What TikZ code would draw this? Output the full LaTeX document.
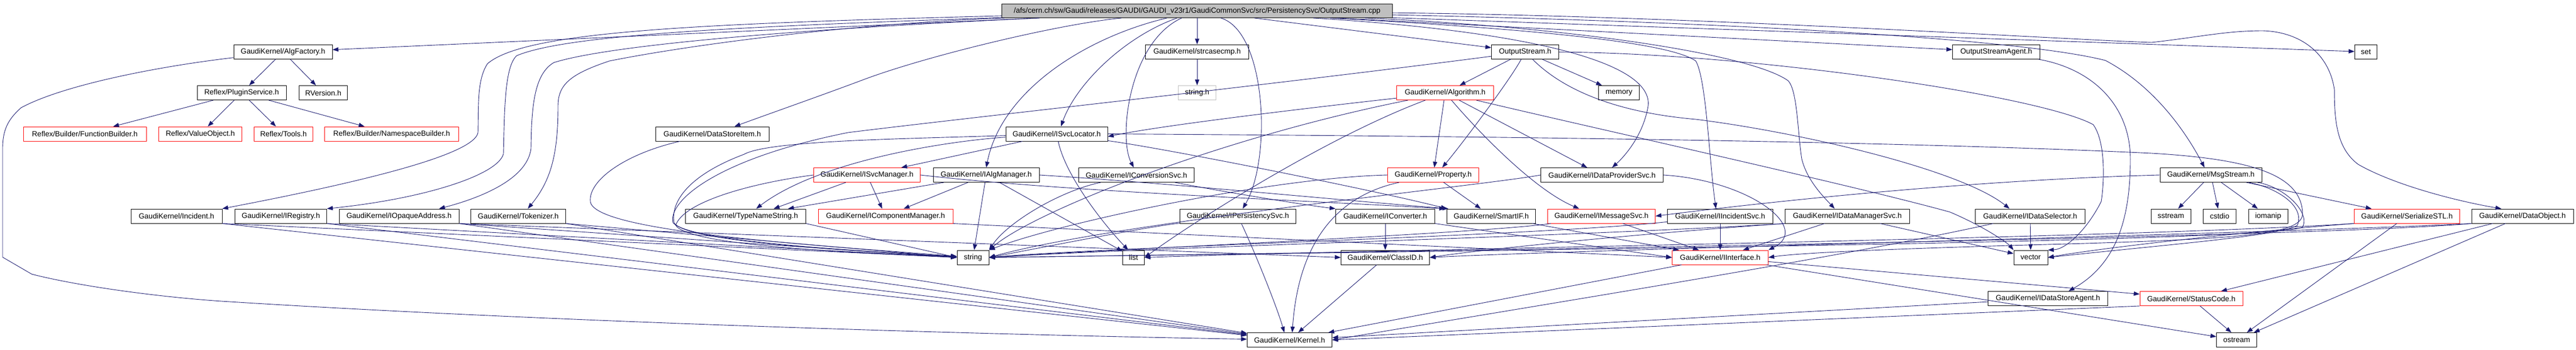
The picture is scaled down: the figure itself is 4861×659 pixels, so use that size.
\documentclass[tikz,border=0pt]{standalone}
\usepackage{fontspec}
\setmainfont{Liberation Sans}
\usetikzlibrary{arrows.meta}
\definecolor{eb}{HTML}{191970}
\definecolor{gb}{HTML}{BFBFBF}
\begin{document}
\begin{tikzpicture}[x=1pt,y=-1pt,
  nd/.style={draw=black,line width=1pt,minimum height=27pt,inner sep=0pt,font=\fontsize{14}{16}\selectfont},
  rd/.style={nd,draw=red},
  e/.style={draw=eb,line width=0.9pt,-{Triangle[length=11pt,width=8pt]}}]
\useasboundingbox[fill=white] (0,0) rectangle (4861,659);
% ---------------- nodes
\node[nd,fill=gb,minimum width=737pt,minimum height=26pt] (top) at (2259,20.5) {/afs/cern.ch/sw/Gaudi/releases/GAUDI/GAUDI\_v23r1/GaudiCommonSvc/src/PersistencySvc/OutputStream.cpp};
\node[nd,minimum width=186pt] (algf) at (534,97.8) {GaudiKernel/AlgFactory.h};
\node[nd,minimum width=168pt] (plugin) at (456,175) {Reflex/PluginService.h};
\node[nd,minimum width=91pt] (rver) at (610,175) {RVersion.h};
\node[rd,minimum width=232pt] (fbuild) at (160,252.5) {Reflex/Builder/FunctionBuilder.h};
\node[rd,minimum width=157pt] (vobj) at (378,252.5) {Reflex/ValueObject.h};
\node[rd,minimum width=111pt] (tools) at (535,252.5) {Reflex/Tools.h};
\node[rd,minimum width=253pt] (nsb) at (739,252.5) {Reflex/Builder/NamespaceBuilder.h};
\node[nd,minimum width=172pt] (incident) at (333,407.5) {GaudiKernel/Incident.h};
\node[nd,minimum width=173pt] (ireg) at (530,407.5) {GaudiKernel/IRegistry.h};
\node[nd,minimum width=226pt] (iopaq) at (753,407.5) {GaudiKernel/IOpaqueAddress.h};
\node[nd,minimum width=179pt] (token) at (978,407.5) {GaudiKernel/Tokenizer.h};
\node[nd,minimum width=214pt] (dsi) at (1344,252.5) {GaudiKernel/DataStoreItem.h};
\node[nd,minimum width=227pt] (tns) at (1407,407.5) {GaudiKernel/TypeNameString.h};
\node[rd,minimum width=201pt] (isvcm) at (1636,330) {GaudiKernel/ISvcManager.h};
\node[rd,minimum width=254pt] (icomp) at (1671,407.5) {GaudiKernel/IComponentManager.h};
\node[nd,minimum width=195pt] (strcmp) at (2259,97.8) {GaudiKernel/strcasecmp.h};
\node[nd,draw=gb,minimum width=71pt] (stringh) at (2259,175) {string.h};
\node[nd,minimum width=192pt] (isvcl) at (1994,252.5) {GaudiKernel/ISvcLocator.h};
\node[nd,minimum width=200pt] (ialgm) at (1861,330) {GaudiKernel/IAlgManager.h};
\node[nd,minimum width=218pt] (iconv) at (2144.5,330) {GaudiKernel/IConversionSvc.h};
\node[nd,minimum width=219pt] (ipers) at (2336,407.5) {GaudiKernel/IPersistencySvc.h};
\node[nd,minimum width=60pt] (nstring) at (1836,485.5) {string};
\node[nd,minimum width=41pt] (nlist) at (2139,485.5) {list};
\node[nd,minimum width=160pt] (kernel) at (2433.5,641) {GaudiKernel/Kernel.h};
\node[nd,minimum width=127pt] (ostreamh) at (2878,97.8) {OutputStream.h};
\node[rd,minimum width=183pt] (algo) at (2727,175) {GaudiKernel/Algorithm.h};
\node[nd,minimum width=77pt] (nmemory) at (3055,175) {memory};
\node[rd,minimum width=171.5pt] (prop) at (2704.5,330) {GaudiKernel/Property.h};
\node[nd,minimum width=231pt] (idps) at (3023,330) {GaudiKernel/IDataProviderSvc.h};
\node[nd,minimum width=187pt] (iconvt) at (2614,407.5) {GaudiKernel/IConverter.h};
\node[nd,minimum width=167pt] (smartif) at (2814,407.5) {GaudiKernel/SmartIF.h};
\node[rd,minimum width=203pt] (imsg) at (3022,407.5) {GaudiKernel/IMessageSvc.h};
\node[nd,minimum width=199pt] (iinc) at (3246,407.5) {GaudiKernel/IIncidentSvc.h};
\node[nd,minimum width=167pt] (classid) at (2614,485.5) {GaudiKernel/ClassID.h};
\node[rd,minimum width=181pt] (iint) at (3246,485.5) {GaudiKernel/IInterface.h};
\node[nd,minimum width=165pt] (osagent) at (3767,97.8) {OutputStreamAgent.h};
\node[nd,minimum width=235pt] (idms) at (3486,407.5) {GaudiKernel/IDataManagerSvc.h};
\node[nd,minimum width=207pt] (idsel) at (3831,407.5) {GaudiKernel/IDataSelector.h};
\node[nd,minimum width=64pt] (nvector) at (3832,485.5) {vector};
\node[nd,minimum width=226pt] (idsa) at (3864.5,563) {GaudiKernel/IDataStoreAgent.h};
\node[rd,minimum width=194pt] (status) at (4135,563) {GaudiKernel/StatusCode.h};
\node[nd,minimum width=75pt] (nsstream) at (4096.5,407.5) {sstream};
\node[nd,minimum width=192pt] (msgs) at (4172,330) {GaudiKernel/MsgStream.h};
\node[nd,minimum width=62pt] (ncstdio) at (4188.5,407.5) {cstdio};
\node[nd,minimum width=74pt] (niomanip) at (4280,407.5) {iomanip};
\node[rd,minimum width=199pt] (sstl) at (4542,407.5) {GaudiKernel/SerializeSTL.h};
\node[nd,minimum width=192pt] (dobj) at (4760,407.5) {GaudiKernel/DataObject.h};
\node[nd,minimum width=76pt] (nostream) at (4220.7,641) {ostream};
\node[nd,minimum width=42pt] (nset) at (4464.5,97.8) {set};
% ---------------- edges from the source file
\draw[e] (top) -- (algf);
\draw[e] (top) .. controls (1300,45) and (990,60) .. (920,120) .. controls (900,150) and (903,200) .. (902,250) .. controls (895,290) and (700,340) .. (incident.north east);
\draw[e] (top) .. controls (1400,50) and (1070,65) .. (975,105) .. controls (953,125) and (952,200) .. (950,290) .. controls (940,330) and (800,375) .. (ireg.north east);
\draw[e] (top) .. controls (1500,55) and (1150,85) .. (1045,118) .. controls (1008,140) and (1003,200) .. (1002,280) .. controls (995,340) and (900,375) .. ([xshift=-38pt]iopaq.north east);
\draw[e] (top) .. controls (1600,45) and (1300,85) .. (1150,115) .. controls (1075,140) and (1053,160) .. (1053,200) .. controls (1053,290) and (1040,340) .. ([xshift=18pt]token.north);
\draw[e] (top) .. controls (2000,45) and (1750,105) .. (1630,150) .. controls (1550,180) and (1450,215) .. ([xshift=42pt]dsi.north);
\draw[e] (top) -- (strcmp);
\draw[e] (top) .. controls (2120,70) and (2030,160) .. ([xshift=8pt]isvcl.north);
\draw[e] (top) .. controls (2050,70) and (1890,170) .. (ialgm.north);
\draw[e] (top) .. controls (2130,80) and (2110,260) .. ([xshift=-5pt]iconv.north);
\draw[e] (top) .. controls (2390,60) and (2400,300) .. ([xshift=9pt]ipers.north);
\draw[e] (top) -- (ostreamh);
\draw[e] (top) -- (osagent);
\draw[e] (top) -- (nset);
\draw[e] (top) .. controls (2900,60) and (3120,120) .. (3110,200) .. controls (3100,260) and (3060,300) .. ([xshift=19pt]idps.north);
\draw[e] (top) .. controls (2950,50) and (3300,100) .. (3374,152) .. controls (3392,170) and (3392,250) .. (3400,300) .. controls (3410,340) and (3440,370) .. ([xshift=-24pt]idms.north);
\draw[e] (top) .. controls (2900,55) and (3150,80) .. (3200,115) .. controls (3220,150) and (3225,300) .. ([xshift=-8pt]iinc.north);
\draw[e] (top) .. controls (3200,40) and (3800,70) .. (3973,114) .. controls (4060,160) and (4120,240) .. ([xshift=-12pt]msgs.north);
\draw[e] (top) .. controls (3200,30) and (3900,75) .. (4060,80) .. controls (4150,70) and (4200,58) .. (4270,58) .. controls (4340,60) and (4395,100) .. (4405,169) .. controls (4405,230) and (4410,280) .. (4450,310) .. controls (4520,350) and (4640,380) .. ([xshift=-40pt]dobj.north);
% ---------------- AlgFactory and Reflex
\draw[e] (algf) -- (plugin);
\draw[e] (algf) -- (rver);
\draw[e] (algf) .. controls (300,125) and (120,160) .. (40,203) .. controls (15,225) and (5,245) .. (5,280) -- (5,485) -- (60,517) .. controls (150,540) and (300,560) .. (418,568) .. controls (1000,605) and (1800,630) .. (kernel);
\draw[e] (plugin) -- (fbuild);
\draw[e] (plugin) -- (vobj);
\draw[e] (plugin) -- (tools);
\draw[e] (plugin) -- (nsb);
\draw[e] (strcmp) -- (stringh);
% ---------------- OutputStream.h
\draw[e] (ostreamh) -- (algo);
\draw[e] (ostreamh) -- (nmemory);
\draw[e] (ostreamh) .. controls (2850,150) and (2760,270) .. ([xshift=17pt]prop.north);
\draw[e] (ostreamh) .. controls (2950,170) and (3050,212) .. (3200,225) .. controls (3400,250) and (3700,320) .. ([xshift=-39pt]idsel.north);
\draw[e] (ostreamh) .. controls (3300,100) and (3850,180) .. (3950,235) .. controls (3975,270) and (3970,350) .. (3965,380) .. controls (3940,430) and (3900,470) .. (nvector.north east);
\draw[e] (ostreamh) .. controls (2400,160) and (1800,225) .. (1600,250) .. controls (1350,300) and (1260,380) .. (1270,420) .. controls (1300,455) and (1600,472) .. (nstring);
% ---------------- OutputStreamAgent, DataStoreItem
\draw[e] (osagent) .. controls (3950,130) and (4020,200) .. (4020,300) .. controls (4020,420) and (3990,500) .. ([xshift=39pt]idsa.north);
\draw[e] (dsi) .. controls (1180,290) and (1110,340) .. (1114,380) .. controls (1120,435) and (1500,460) .. (nstring);
% ---------------- ISvcLocator
\draw[e] (isvcl) -- (isvcm);
\draw[e] (isvcl) .. controls (2010,330) and (2080,420) .. ([xshift=-10pt]nlist.north);
\draw[e] (isvcl) .. controls (1800,265) and (1550,300) .. ([xshift=20pt]tns.north);
\draw[e] (isvcl) .. controls (1700,262) and (1450,265) .. (1404,291) .. controls (1300,330) and (1265,380) .. (1272,420) .. controls (1290,450) and (1500,468) .. (nstring);
\draw[e] (isvcl) .. controls (2200,280) and (2600,360) .. (smartif.north west);
\draw[e] (isvcl.east) .. controls (2500,255) and (3500,262) .. (4060,289) .. controls (4250,300) and (4345,330) .. (4345,405) .. controls (4340,440) and (4250,450) .. (3900,460) .. controls (3600,468) and (3400,476) .. (iint.east);
% ---------------- IAlgManager, ISvcManager
\draw[e] (ialgm) -- (icomp);
\draw[e] (ialgm) -- (nstring);
\draw[e] (ialgm) -- (nlist);
\draw[e] ([xshift=-80pt]ialgm.south) -- ([xshift=80pt]tns.north);
\draw[e] (ialgm.east) .. controls (2200,345) and (2500,375) .. ([xshift=3pt]smartif.north west);
\draw[e] (isvcm) -- (icomp);
\draw[e] ([xshift=-40pt]isvcm.south) -- ([xshift=53pt]tns.north);
\draw[e] (isvcm.west) .. controls (1420,345) and (1290,380) .. (1275,425) .. controls (1300,460) and (1550,475) .. (nstring);
\draw[e] (isvcm.east) .. controls (2000,360) and (2400,375) .. ([xshift=-3pt]smartif.north west);
% ---------------- IConversionSvc, IPersistencySvc
\draw[e] (iconv) .. controls (2300,360) and (2450,385) .. (iconvt.north west);
\draw[e] (iconv) .. controls (2000,360) and (1900,420) .. (nstring.north east);
\draw[e] (ipers) .. controls (2370,480) and (2410,580) .. ([xshift=-10pt]kernel.north);
\draw[e] (ipers) .. controls (2150,430) and (1950,470) .. (nstring.east);
% ---------------- Algorithm.h
\draw[e] (algo) .. controls (2500,200) and (2200,235) .. ([yshift=-5pt]isvcl.east);
\draw[e] (algo) -- (prop);
\draw[e] (algo) .. controls (2800,260) and (2900,360) .. ([xshift=-42pt]imsg.north);
\draw[e] (algo) -- ([xshift=-28pt]idps.north);
\draw[e] (algo) .. controls (2300,260) and (1950,400) .. (nstring.north east);
\draw[e] (algo) .. controls (2500,260) and (2250,420) .. (nlist.east);
\draw[e] (algo) .. controls (3000,240) and (3500,350) .. (3680,400) .. controls (3750,430) and (3790,460) .. (nvector.north west);
% ---------------- Property.h, IDataProviderSvc.h
\draw[e] (prop) -- (smartif);
\draw[e] (prop) .. controls (2520,370) and (2450,460) .. ([xshift=5pt]kernel.north);
\draw[e] (prop.west) .. controls (2400,335) and (2000,420) .. (nstring.north east);
\draw[e] (idps.west) .. controls (2800,350) and (2100,420) .. (nstring.east);
\draw[e] (idps.east) .. controls (3300,340) and (3420,430) .. (iint.north east);
% ---------------- row 5 interfaces
\draw[e] (iconvt) -- (classid);
\draw[e] (iconvt.south east) -- (iint.west);
\draw[e] (smartif) -- (iint);
\draw[e] (imsg) -- (iint);
\draw[e] (imsg) .. controls (2800,440) and (2100,470) .. (nstring.east);
\draw[e] (iinc) -- (iint);
\draw[e] (iinc) .. controls (2900,445) and (2100,465) .. (nstring.east);
\draw[e] (idms) -- (iint);
\draw[e] (idms) -- (nvector);
\draw[e] (idms.south west) .. controls (3000,445) and (2200,465) .. (nstring.east);
\draw[e] (idms.south west) .. controls (3100,440) and (2800,470) .. (classid.east);
\draw[e] (idsel) -- (nvector);
\draw[e] ([xshift=-70pt]idsel.south) .. controls (3500,480) and (3000,560) .. (kernel.east);
% ---------------- lower rows
\draw[e] (iint) -- (kernel);
\draw[e] (iint) -- (status);
\draw[e] (iint) -- (nostream);
\draw[e] (status) -- ([xshift=-10pt]nostream.north);
\draw[e] (status.south west) -- (kernel.east);
\draw[e] (idsa) -- (kernel);
\draw[e] (classid) -- (kernel);
% ---------------- SerializeSTL, DataObject, MsgStream
\draw[e] (sstl) -- (nostream);
\draw[e] (sstl.south west) .. controls (4200,440) and (3950,470) .. (nvector.east);
\draw[e] (sstl.south west) .. controls (4000,450) and (2600,470) .. (nlist.east);
\draw[e] (dobj) -- (nostream);
\draw[e] (dobj) -- (status);
\draw[e] (dobj.south west) .. controls (4300,440) and (3000,470) .. (classid.east);
\draw[e] (dobj.south west) .. controls (4400,445) and (3000,470) .. (nstring.east);
\draw[e] (msgs) -- (nsstream);
\draw[e] (msgs) -- (ncstdio);
\draw[e] (msgs) -- (niomanip);
\draw[e] (msgs) -- (sstl);
\draw[e] (msgs.west) .. controls (3700,340) and (3300,385) .. (imsg.east);
\draw[e] (msgs) .. controls (4300,355) and (4350,390) .. (4335,425) .. controls (4300,445) and (4100,460) .. (nvector.east);
\draw[e] (msgs) .. controls (4310,352) and (4360,400) .. (4345,428) .. controls (4300,455) and (3000,470) .. (nstring.east);
% ---------------- left row-5 headers
\draw[e] (incident.south east) -- (nstring.west);
\draw[e] (incident.south east) -- (kernel);
\draw[e] (ireg.south east) -- (nstring.west);
\draw[e] (ireg.south east) -- (kernel);
\draw[e] (iopaq.south east) -- (nstring.west);
\draw[e] (iopaq.south east) -- (kernel);
\draw[e] (iopaq.south east) -- (classid.west);
\draw[e] (token.south east) -- (nstring.west);
\draw[e] (token.south east) -- (kernel);
\draw[e] (tns.south east) -- (nstring.west);
\draw[e] (icomp.south east) -- (iint.west);
\end{tikzpicture}
\end{document}
